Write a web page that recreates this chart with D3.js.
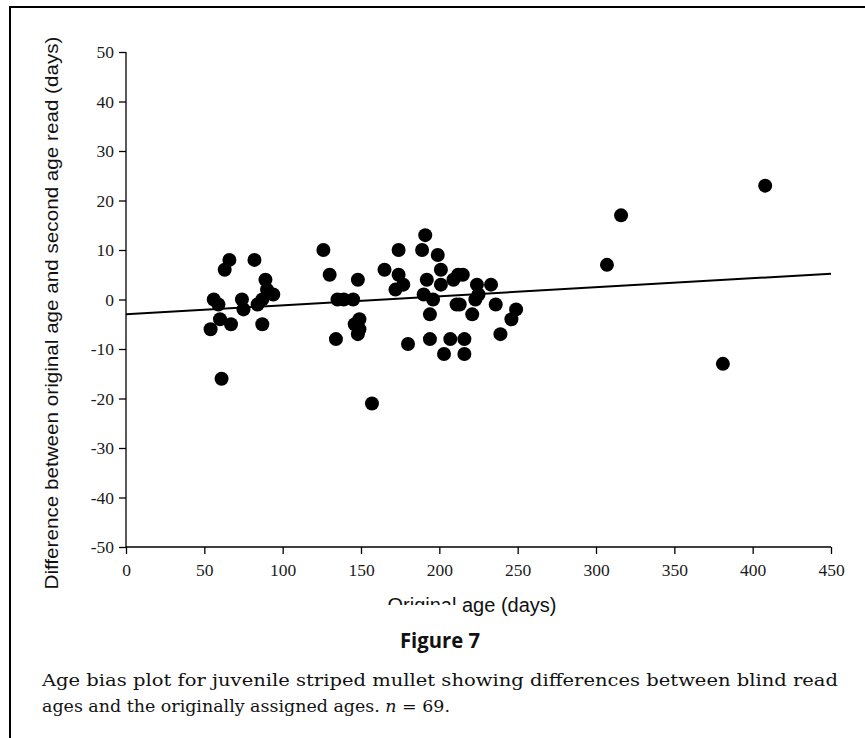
<!DOCTYPE html>
<html>
<head>
<meta charset="utf-8">
<script src="https://cdn.jsdelivr.net/npm/d3@7"></script>
<style>
  html, body { margin: 0; padding: 0; background: #fff; }
  svg { display: block; }
  .tick text { font-family: "Liberation Serif", serif; font-size: 17.5px; fill: #1a1a1a; }
</style>
</head>
<body>
<svg id="chart" width="865" height="738"></svg>
<script>
// ---- data ----
const originalAge = [
  54, 56, 59, 60, 61, 63, 66, 67, 74, 75, 82, 84, 87, 87, 89, 90, 94,
  126, 130, 135, 139, 145, 148, 149, 146, 149, 148, 134, 157, 165, 174, 174, 177, 172, 180,
  191, 189, 199, 201, 192, 201, 209, 212, 215, 224, 233, 190, 196, 225, 223, 211, 213, 236,
  194, 221, 249, 246, 239, 194, 207, 216, 203, 216,
  307, 316, 381, 408
];
const ageDifference = [
  -6, 0, -1, -4, -16, 6, 8, -5, 0, -2, 8, -1, 0, -5, 4, 2, 1,
  10, 5, 0, 0, 0, 4, -4, -5, -6, -7, -8, -21, 6, 10, 5, 3, 2, -9,
  13, 10, 9, 6, 4, 3, 4, 5, 5, 3, 3, 1, 0, 1, 0, -1, -1, -1,
  -3, -3, -2, -4, -7, -8, -8, -8, -11, -11,
  7, 17, -13, 23
];
const trendX = [0, 450];
const trendY = [-3.0, 5.2];
const xTicks = [0, 50, 100, 150, 200, 250, 300, 350, 400, 450];
const yTicks = [-50, -40, -30, -20, -10, 0, 10, 20, 30, 40, 50];
const xTitle = "Original age (days)";
const yTitle = "Difference between original age and second age read (days)";
const figTitle = "Figure 7";
const captionLine1 = "Age bias plot for juvenile striped mullet showing differences between blind read";
const captionLine2a = "ages and the originally assigned ages. ";

// ---- layout ----
const svg = d3.select("#chart");
const plot = { left: 126, right: 831, top: 52, bottom: 547 };

const x = d3.scaleLinear().domain([0, 450]).range([plot.left, plot.right]);
const y = d3.scaleLinear().domain([-50, 50]).range([plot.bottom, plot.top]);

// outer frame
svg.append("rect")
  .attr("x", 10).attr("y", 7).attr("width", 900).attr("height", 800)
  .attr("fill", "none").attr("stroke", "#000").attr("stroke-width", 2);

const sans = "Liberation Sans";
const fmt = d => String(d);

// y axis
const yAxis = svg.append("g")
  .attr("transform", `translate(${plot.left},0)`)
  .call(d3.axisLeft(y).tickValues(yTicks).tickSize(7).tickPadding(5).tickFormat(fmt));
yAxis.selectAll("text").style("font-family", "Liberation Serif").style("font-size", "17.5px");
yAxis.select(".domain").attr("d", `M0,${plot.top}V${plot.bottom}`).attr("stroke-width", 1.3);
yAxis.selectAll(".tick line").attr("stroke-width", 1.3);

// x axis
const xAxis = svg.append("g")
  .attr("transform", `translate(0,${plot.bottom})`)
  .call(d3.axisBottom(x).tickValues(xTicks).tickSize(7).tickPadding(10).tickFormat(fmt));
xAxis.selectAll("text").style("font-family", "Liberation Serif").style("font-size", "17.5px");
xAxis.select(".domain").attr("d", `M${plot.left},0H${plot.right}`).attr("stroke-width", 1.3);
xAxis.selectAll(".tick line").attr("stroke-width", 1.3);

// trend line
svg.append("path")
  .datum(trendX.map((d, i) => [d, trendY[i]]))
  .attr("fill", "none").attr("stroke", "#000").attr("stroke-width", 2)
  .attr("d", d3.line().x(d => x(d[0])).y(d => y(d[1])));

// points
svg.append("g").selectAll("circle")
  .data(originalAge.map((d, i) => [d, ageDifference[i]]))
  .join("circle")
  .attr("cx", d => x(d[0])).attr("cy", d => y(d[1]))
  .attr("r", 7).attr("fill", "#000");

// axis titles
svg.append("text")
  .attr("x", 472).attr("y", 612)
  .attr("text-anchor", "middle")
  .style("font-family", sans).style("font-size", "20px").style("fill", "#111")
  .text(xTitle);
// partial mask over the lower part of "Original" as in reference
svg.append("rect").attr("x", 384).attr("y", 605).attr("width", 74).attr("height", 14).attr("fill", "#fff");

svg.append("text")
  .attr("transform", "translate(58,313) rotate(-90)")
  .attr("text-anchor", "middle")
  .attr("textLength", 553).attr("lengthAdjust", "spacingAndGlyphs")
  .style("font-family", sans).style("font-size", "19px").style("fill", "#111")
  .text(yTitle);

// figure title
svg.append("text")
  .attr("x", 440).attr("y", 648)
  .attr("text-anchor", "middle")
  .attr("textLength", 80).attr("lengthAdjust", "spacingAndGlyphs")
  .style("font-family", "Open Sans").style("font-weight", 700)
  .style("font-size", "21px").style("fill", "#111")
  .text(figTitle);

// caption
svg.append("text")
  .attr("x", 42).attr("y", 686)
  .style("font-family", "DejaVu Serif").style("font-size", "16.5px").style("fill", "#111")
  .attr("textLength", 796).attr("lengthAdjust", "spacingAndGlyphs")
  .text(captionLine1);
const cap2 = svg.append("text")
  .attr("x", 42).attr("y", 712)
  .style("font-family", "DejaVu Serif").style("font-size", "16.5px").style("fill", "#111")
  .attr("textLength", 408).attr("lengthAdjust", "spacingAndGlyphs");
cap2.append("tspan").text(captionLine2a);
cap2.append("tspan").style("font-style", "italic").text("n");
cap2.append("tspan").text(" = 69.");
</script>
</body>
</html>
